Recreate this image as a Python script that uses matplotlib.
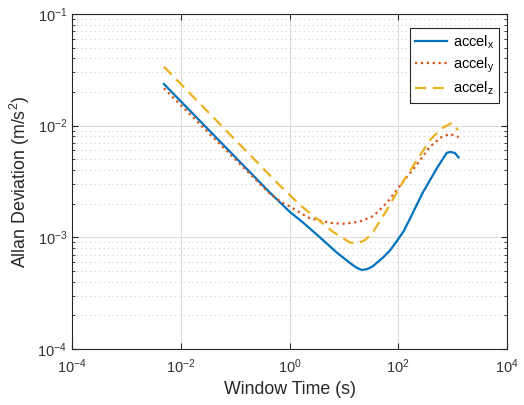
import matplotlib
matplotlib.use('Agg')
import matplotlib.pyplot as plt
import matplotlib.ticker as mticker
import numpy as np

plt.rcParams['font.family'] = ['Liberation Sans', 'DejaVu Sans']
plt.rcParams['mathtext.fontset'] = 'custom'
plt.rcParams['mathtext.rm'] = 'Liberation Sans'
plt.rcParams['mathtext.it'] = 'Liberation Sans'

# values (window time in s, deviation in m/s^2)
tau_x = [0.0049, 0.437, 1.0, 1.76, 3.62, 7.41, 12.9, 17, 21.4, 27, 33.9, 52.5, 70,
         93.3, 125, 162, 282, 513, 776, 891, 1096, 1288]
adev_x = [0.0236, 0.00251, 0.0017, 0.00136, 0.001, 7.3e-4, 5.9e-4, 5.35e-4, 5.1e-4,
          5.2e-4, 5.5e-4, 6.6e-4, 7.6e-4, 9.2e-4, 0.00113, 0.00145, 0.00251, 0.00416,
          0.00569, 0.00582, 0.0057, 0.0052]

tau_y = [0.0049, 0.437, 0.7, 1.0, 1.6, 2.37, 5.5, 9.55, 19.5, 34.7, 61.7, 120, 219,
         380, 631, 891, 1288]
adev_y = [0.0216, 0.00245, 0.00207, 0.0019, 0.00165, 0.00148, 0.00135, 0.00132,
          0.00138, 0.00155, 0.00204, 0.0031, 0.00446, 0.00646, 0.00794, 0.00841, 0.0079]

tau_z = [0.0049, 0.667, 1.0, 1.55, 3.14, 6.3, 12.9, 17.4, 24, 33, 42.7, 61.7, 120,
         219, 380, 631, 977, 1259]
adev_z = [0.0337, 0.0029, 0.0024, 0.00195, 0.00148, 0.00112, 9.0e-4, 8.8e-4, 9.4e-4,
          0.00108, 0.00132, 0.00176, 0.0031, 0.0049, 0.0074, 0.0095, 0.01057, 0.0091]

labels = [r'accel$_\mathregular{x}$', r'accel$_\mathregular{y}$', r'accel$_\mathregular{z}$']
colors = ['#0072BD', '#D95319', '#EDB120']

fig = plt.figure(figsize=(5.24, 4.05), dpi=100, facecolor='white')
ax = fig.add_axes([0.1374, 0.1383, 0.8302, 0.8272])

ax.loglog(tau_x, adev_x, color=colors[0], lw=1.6, ls='-', label=labels[0])
ax.loglog(tau_y, adev_y, color=colors[1], lw=1.6, ls=':', label=labels[1])
ax.loglog(tau_z, adev_z, color=colors[2], lw=1.6, ls=(0, (5, 3)), label=labels[2])

ax.set_xlim(1e-4, 1e4)
ax.set_ylim(1e-4, 1e-1)
ax.xaxis.set_major_locator(mticker.FixedLocator([1e-4, 1e-2, 1e0, 1e2, 1e4]))
ax.xaxis.set_minor_locator(mticker.NullLocator())
ax.yaxis.set_major_locator(mticker.LogLocator(base=10, numticks=10))
ax.yaxis.set_minor_locator(mticker.LogLocator(base=10, subs=np.arange(2, 10), numticks=10))
ax.yaxis.set_minor_formatter(mticker.NullFormatter())

ax.grid(True, which='major', color='#dcdcdc', lw=0.8, ls='-')
ax.grid(True, which='minor', axis='y', color='#cfcfcf', lw=0.8, ls=(0, (1, 3)))
ax.set_axisbelow(True)

for s in ax.spines.values():
    s.set_color('#262626')
    s.set_linewidth(0.8)
ax.tick_params(which='both', direction='in', top=True, right=True, colors='#262626',
               labelsize=10.5, labelcolor='#333333')
ax.tick_params(which='major', length=4)
ax.tick_params(which='minor', length=2.5)
ax.tick_params(axis='x', pad=6)

ax.set_xlabel('Window Time (s)', fontsize=12.8, color='#262626')
ax.set_ylabel('Allan Deviation (m/s$^\\mathregular{2}$)', fontsize=12.8, color='#262626')

leg = ax.legend(loc='upper right', bbox_to_anchor=(0.9816, 0.958), fontsize=10.5,
                fancybox=False, framealpha=1, edgecolor='#262626',
                handlelength=2.2, handletextpad=0.35, borderpad=0.35,
                labelspacing=0.35, borderaxespad=0)
leg.get_frame().set_linewidth(0.8)

fig.savefig('out.png', dpi=100, facecolor='white')
